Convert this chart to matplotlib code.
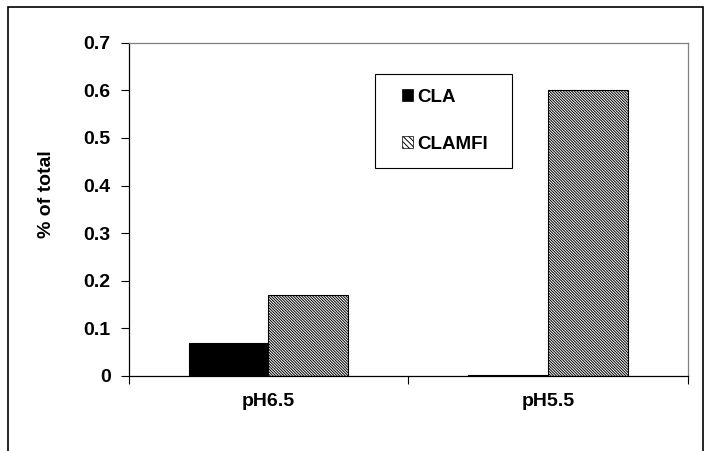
import numpy as np
import matplotlib
matplotlib.use("Agg")
import matplotlib.pyplot as plt
from matplotlib.patches import Rectangle, Patch

plt.rcParams['font.family'] = ['Liberation Sans', 'DejaVu Sans']
plt.rcParams['font.weight'] = 'bold'
plt.rcParams['hatch.linewidth'] = 0.7
plt.rcParams['hatch.color'] = '#333333'

categories = ["pH6.5", "pH5.5"]
cla = [0.07, 0.003]
clamfi = [0.17, 0.60]
y_ticks = [0, 0.1, 0.2, 0.3, 0.4, 0.5, 0.6, 0.7]

HATCH = '\\' * 12
FS = 14

fig = plt.figure(figsize=(7.13, 4.51), dpi=100)
ax = fig.add_axes([0.1804, 0.1663, 0.7846, 0.739])

# outer frame around the whole chart
fig.patches.append(Rectangle((8 / 713, -0.05), 695 / 713, 1.05 - 7 / 451,
                             transform=fig.transFigure, fill=False,
                             edgecolor='black', linewidth=1.2))

x = np.arange(len(categories)) + 0.5
w = 1 / 3.5
ax.bar(x - w / 2, cla, width=w, color='black', edgecolor='black', linewidth=0.8)
ax.bar(x + w / 2, clamfi, width=w, color='white', edgecolor='black',
       linewidth=0.8, hatch=HATCH)

ax.set_xlim(0, 2)
ax.set_ylim(0, 0.7)
ax.set_yticks(y_ticks)
ax.set_yticklabels(["0" if v == 0 else f"{v:.1f}" for v in y_ticks], fontsize=FS)
ax.set_xticks([0, 1, 2])
ax.set_xticklabels([])
ax.set_xticks(x, minor=True)
ax.set_xticklabels(categories, minor=True, fontsize=FS)
ax.tick_params(axis='x', which='minor', length=0, pad=12)
ax.tick_params(axis='x', which='major', length=6, direction='out', width=0.8)
ax.tick_params(axis='y', length=6, direction='out', width=0.8, pad=7)
ax.set_ylabel("% of total", fontsize=FS, fontweight='bold')
ax.yaxis.set_label_coords(-0.1316, 0.545)

for s in ['top', 'right']:
    ax.spines[s].set_color('#808080')
    ax.spines[s].set_linewidth(0.9)
for s in ['left', 'bottom']:
    ax.spines[s].set_color('black')
    ax.spines[s].set_linewidth(0.9)

# legend box drawn separately so its padding can match the original
ax.add_patch(Rectangle((0.4405, 0.624), 0.245, 0.282, transform=ax.transAxes,
                       fill=False, edgecolor='black', linewidth=0.8, zorder=5))
handles = [Patch(facecolor='black', edgecolor='black', linewidth=0.5),
           Patch(facecolor='white', edgecolor='black', linewidth=0.5, hatch='\\' * 6)]
leg = ax.legend(handles, ["CLA", "CLAMFI"], loc='center',
                bbox_to_anchor=(0.5655, 0.765), frameon=False,
                fontsize=13.5, handlelength=0.6,
                handleheight=0.6, handletextpad=0.2, labelspacing=1.6,
                borderpad=0, borderaxespad=0)
for t in leg.get_texts():
    t.set_fontweight('bold')

fig.savefig("out.png", dpi=100)
